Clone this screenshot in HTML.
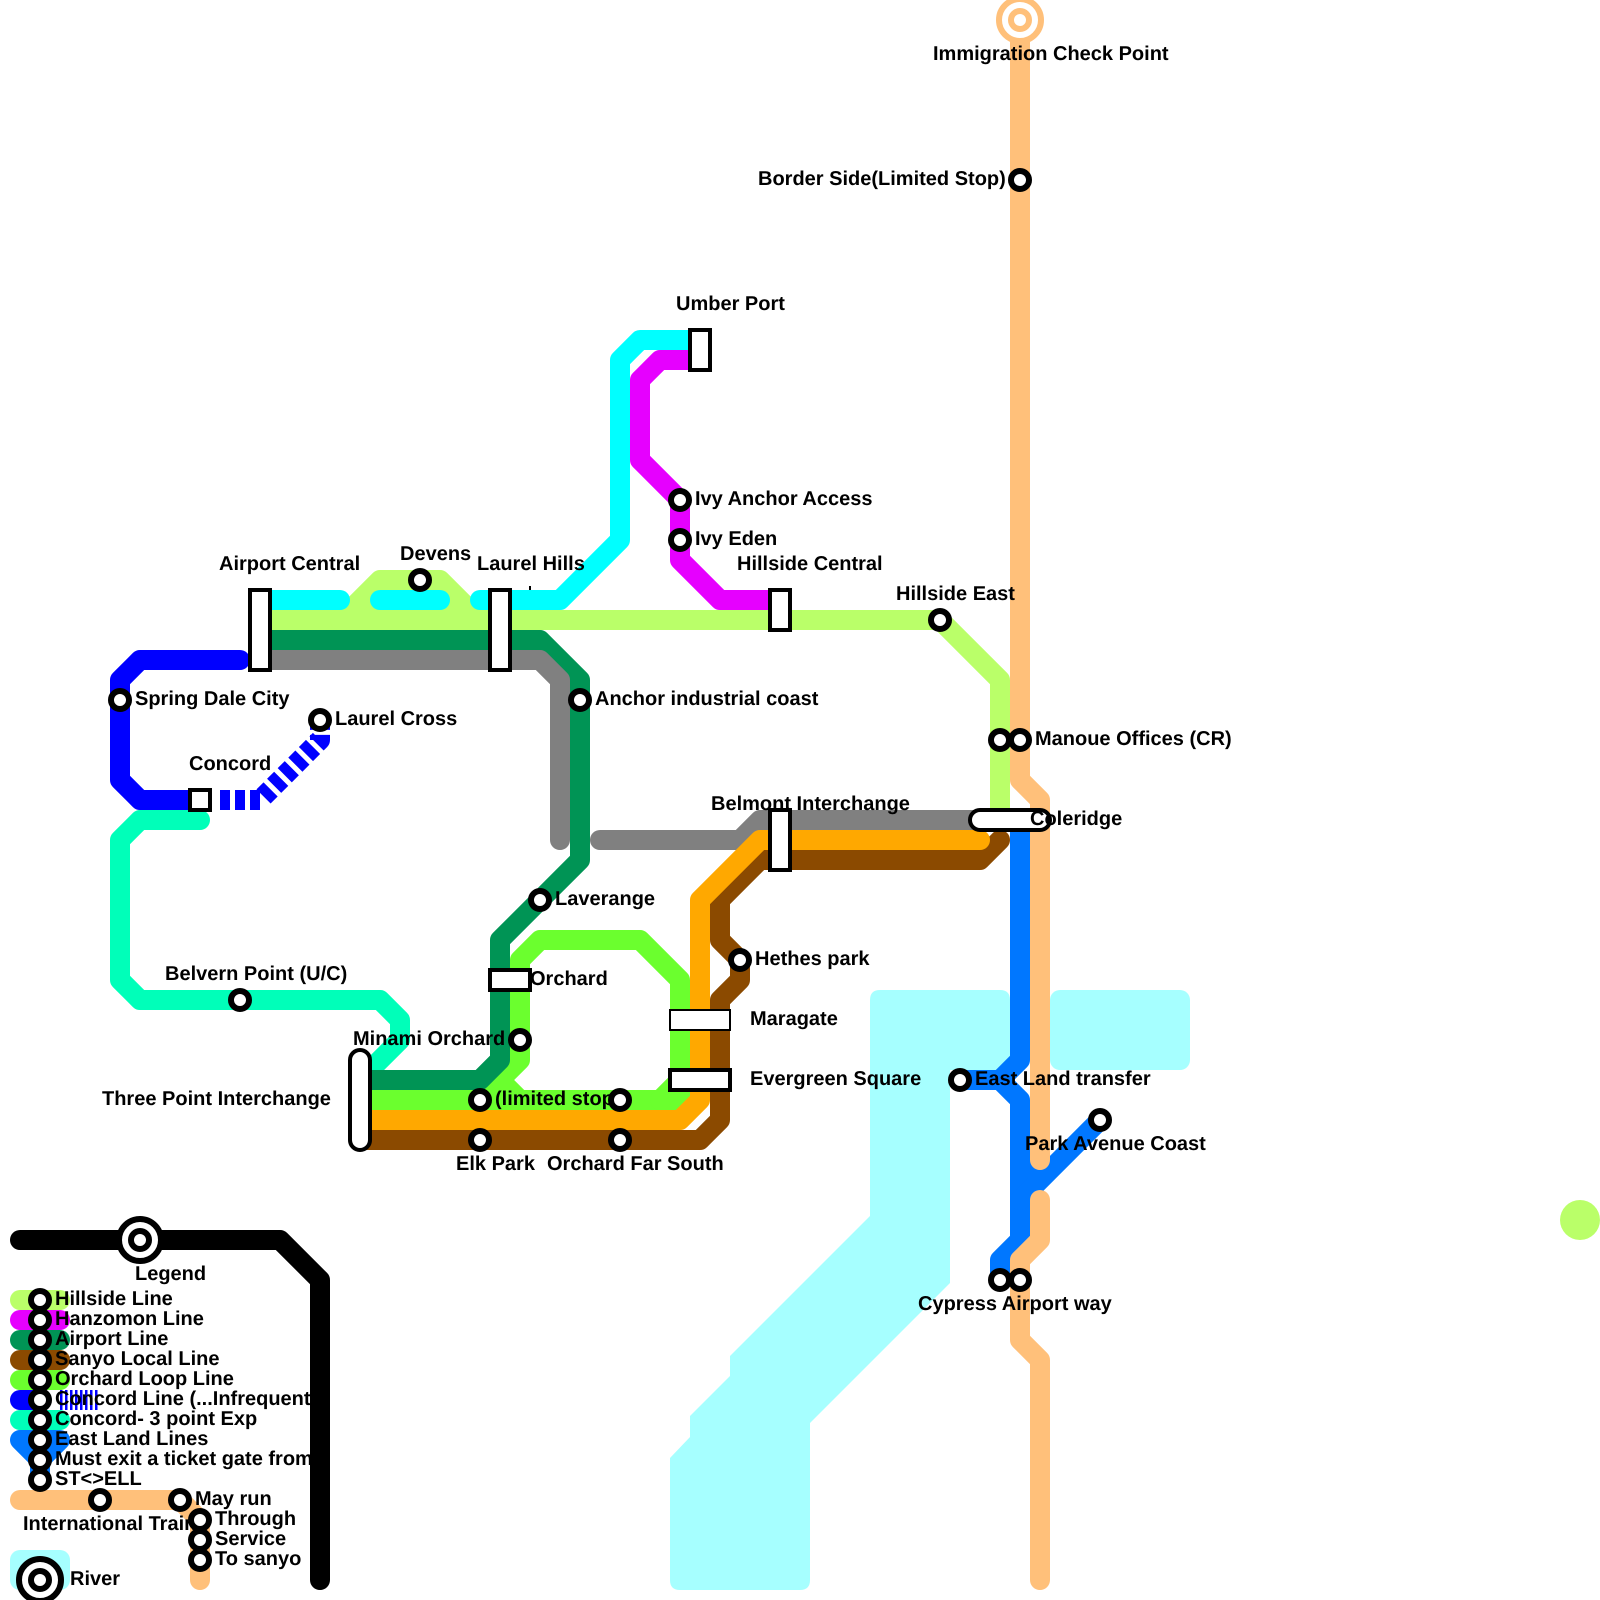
<!DOCTYPE html>
<html><head><meta charset="utf-8"><style>
html,body{margin:0;padding:0;background:#fff}
svg{display:block}
.l{fill:none;stroke-width:20;stroke-linecap:round;stroke-linejoin:round}
.b{fill:none;stroke-width:20;stroke-linecap:butt;stroke-linejoin:round}
text{font-family:"Liberation Sans",sans-serif;font-weight:bold;font-size:20px;fill:#000;font-kerning:normal;text-rendering:geometricPrecision}
.r{fill:#fff;stroke:#000;stroke-width:4}
.s{fill:#fff;stroke:#000;stroke-width:6}
</style></head><body>
<svg width="1600" height="1600" viewBox="0 0 1600 1600" xmlns="http://www.w3.org/2000/svg">
<rect width="1600" height="1600" fill="#fff"/>
<!-- river -->
<path fill="#a6ffff" d="M880 990H1000Q1010 990 1010 1000V1060Q1010 1070 1000 1070H950V1283L810 1423V1580Q810 1590 800 1590H680Q670 1590 670 1580V1458L690 1437V1416L730 1376V1356L870 1216V1000Q870 990 880 990Z"/>
<rect x="1050" y="990" width="140" height="80" rx="10" fill="#a6ffff"/>
<rect x="10" y="1550" width="60" height="40" rx="10" fill="#a6ffff"/>
<circle cx="1580" cy="1220" r="20" fill="#baff69"/>
<!-- hillside -->
<g stroke="#baff69">
<path class="l" d="M260 620H940L1000 680V820"/>
<path class="l" style="fill:#baff69" d="M340 620L380 580H440L480 620Z"/>
<path class="l" d="M20 1300H60"/>
</g>
<!-- cyan -->
<g stroke="#00ffff">
<path class="l" d="M270 600H340"/>
<path class="l" d="M380 600H440"/>
<path class="l" d="M480 600H560L620 540V360L640 340H700"/>
</g>
<rect x="529" y="586" width="2" height="4" fill="#000"/>
<!-- magenta -->
<g stroke="#e600ff">
<path class="l" d="M700 360H660L640 380V460L680 500V560L720 600H780"/>
<path class="l" d="M20 1320H60"/>
</g>
<!-- airport -->
<g stroke="#009455">
<path class="l" d="M260 640H540L580 680V860L500 940V1060L480 1080H360"/>
<path class="l" d="M20 1340H60"/>
</g>
<!-- grey -->
<path class="l" stroke="#808080" d="M260 660H540L560 680V840"/>
<path class="l" stroke="#808080" d="M600 840H740L760 820H980"/>
<!-- concord -->
<g stroke="#0000ff">
<path class="l" d="M240 660H140L120 680V780L140 800H200"/>
<path class="b" stroke-dasharray="10 5" d="M220 800H260L320 740V720"/>
<path class="l" d="M20 1400H40"/>
<path class="b" stroke-dasharray="2.5 2.5" d="M60 1400H98"/>
</g>
<!-- teal -->
<g stroke="#00ffb9">
<path class="l" d="M200 820H140L120 840V980L140 1000H380L400 1020V1040L360 1080"/>
<path class="l" d="M20 1420H60"/>
</g>
<!-- orchard loop -->
<g stroke="#6bff2e">
<path class="l" d="M360 1100H680V980L640 940H540L520 960V1060L480 1100"/>
<path class="l" d="M500 1080L520 1100M660 1100L680 1080"/>
<path class="l" d="M20 1380H60"/>
</g>
<path class="l" stroke="#009455" d="M500 1000V1060L480 1080H360"/>
<!-- brown -->
<g stroke="#8b4a00">
<path class="l" d="M360 1140H700L720 1120V1000L740 980V960L720 940V900L760 860H980L1000 840"/>
<path class="l" d="M20 1360H60"/>
</g>
<!-- orange -->
<path class="l" stroke="#ffa800" d="M360 1120H680L700 1100V900L760 840H980"/>
<!-- east land -->
<g stroke="#0077ff">
<path class="l" d="M1020 820V1060L1000 1080H960"/>
<path class="l" d="M1000 1080L1020 1100V1240L1000 1260V1280"/>
<path class="l" d="M1020 1200L1100 1120"/>
<path class="l" d="M40 1480V1460L20 1440H60L40 1460"/>
</g>
<rect x="1028" y="1160" width="15" height="30" fill="#0077ff"/>
<!-- peach -->
<g stroke="#ffc07a">
<path class="l" d="M1020 20V780L1040 800V1160"/>
<path class="l" d="M1040 1200V1240L1020 1260V1340L1040 1360V1580"/>
<path class="l" d="M20 1500H180L200 1520V1580"/>
</g>
<!-- black -->
<path class="l" stroke="#000" d="M20 1240H280L320 1280V1580"/>
<!-- station boxes -->
<rect class="r" x="250" y="590" width="20" height="80"/>
<rect class="r" x="490" y="590" width="20" height="80"/>
<rect class="r" x="190" y="790" width="20" height="20"/>
<rect class="r" x="690" y="330" width="20" height="40"/>
<rect class="r" x="770" y="590" width="20" height="40"/>
<rect class="r" x="770" y="810" width="20" height="60"/>
<rect class="r" x="970" y="810" width="80" height="20" rx="10"/>
<rect class="r" x="350" y="1050" width="20" height="100" rx="10"/>
<rect class="r" x="490" y="970" width="40" height="20"/>
<rect class="r" style="stroke-width:2" x="670" y="1010" width="60" height="20"/>
<rect class="r" x="670" y="1070" width="60" height="20"/>
<!-- labels -->
<text x="933" y="60">Immigration Check Point</text>
<text x="758" y="185">Border Side(Limited Stop)</text>
<text x="676" y="310">Umber Port</text>
<text x="695" y="505">Ivy Anchor Access</text>
<text x="695" y="545">Ivy Eden</text>
<text x="737" y="570">Hillside Central</text>
<text x="896" y="600">Hillside East</text>
<text x="219" y="570">Airport Central</text>
<text x="400" y="560">Devens</text>
<text x="477" y="570">Laurel Hills</text>
<text x="135" y="705">Spring Dale City</text>
<text x="335" y="725">Laurel Cross</text>
<text x="189" y="770">Concord</text>
<text x="595" y="705">Anchor industrial coast</text>
<text x="711" y="810">Belmont Interchange</text>
<text x="1030" y="825">Coleridge</text>
<text x="1035" y="745">Manoue Offices (CR)</text>
<text x="555" y="905">Laverange</text>
<text x="755" y="965">Hethes park</text>
<text x="530" y="985">Orchard</text>
<text x="165" y="980">Belvern Point (U/C)</text>
<text x="750" y="1025">Maragate</text>
<text x="353" y="1045">Minami Orchard</text>
<text x="750" y="1085">Evergreen Square</text>
<text x="102" y="1105">Three Point Interchange</text>
<text x="495" y="1105">(limited stop)</text>
<text x="456" y="1170">Elk Park</text>
<text x="547" y="1170">Orchard Far South</text>
<text x="975" y="1085">East Land transfer</text>
<text x="1025" y="1150">Park Avenue Coast</text>
<text x="918" y="1310">Cypress Airport way</text>
<text x="135" y="1280">Legend</text>
<text x="55" y="1305">Hillside Line</text>
<text x="55" y="1325">Hanzomon Line</text>
<text x="55" y="1345">Airport Line</text>
<text x="55" y="1365">Sanyo Local Line</text>
<text x="55" y="1385">Orchard Loop Line</text>
<text x="55" y="1405">Concord Line (...Infrequent</text>
<text x="55" y="1425">Concord- 3 point Exp</text>
<text x="55" y="1445">East Land Lines</text>
<text x="55" y="1465">Must exit a ticket gate from</text>
<text x="55" y="1485">ST&lt;&gt;ELL</text>
<text x="195" y="1505">May run</text>
<text x="23" y="1530">International Train</text>
<text x="215" y="1525">Through</text>
<text x="215" y="1545">Service</text>
<text x="215" y="1565">To sanyo</text>
<text x="70" y="1585">River</text>
<!-- interchange stations -->
<circle cx="1020" cy="20" r="21" fill="#fff" stroke="#ffc07a" stroke-width="6"/>
<circle cx="1020" cy="20" r="9" fill="#fff" stroke="#ffc07a" stroke-width="6"/>
<circle cx="140" cy="1240" r="21" class="s"/><circle cx="140" cy="1240" r="9" class="s"/>
<circle cx="40" cy="1580" r="21" class="s"/><circle cx="40" cy="1580" r="9" class="s"/>
<!-- stations -->
<g>
<circle class="s" cx="1020" cy="180" r="9"/>
<circle class="s" cx="680" cy="500" r="9"/>
<circle class="s" cx="680" cy="540" r="9"/>
<circle class="s" cx="420" cy="580" r="9"/>
<circle class="s" cx="940" cy="620" r="9"/>
<circle class="s" cx="120" cy="700" r="9"/>
<circle class="s" cx="320" cy="720" r="9"/>
<circle class="s" cx="580" cy="700" r="9"/>
<circle class="s" cx="1000" cy="740" r="9"/>
<circle class="s" cx="1020" cy="740" r="9"/>
<circle class="s" cx="540" cy="900" r="9"/>
<circle class="s" cx="740" cy="960" r="9"/>
<circle class="s" cx="240" cy="1000" r="9"/>
<circle class="s" cx="520" cy="1040" r="9"/>
<circle class="s" cx="480" cy="1100" r="9"/>
<circle class="s" cx="620" cy="1100" r="9"/>
<circle class="s" cx="480" cy="1140" r="9"/>
<circle class="s" cx="620" cy="1140" r="9"/>
<circle class="s" cx="960" cy="1080" r="9"/>
<circle class="s" cx="1100" cy="1120" r="9"/>
<circle class="s" cx="1000" cy="1280" r="9"/>
<circle class="s" cx="1020" cy="1280" r="9"/>
<circle class="s" cx="40" cy="1300" r="9"/>
<circle class="s" cx="40" cy="1320" r="9"/>
<circle class="s" cx="40" cy="1340" r="9"/>
<circle class="s" cx="40" cy="1360" r="9"/>
<circle class="s" cx="40" cy="1380" r="9"/>
<circle class="s" cx="40" cy="1400" r="9"/>
<circle class="s" cx="40" cy="1420" r="9"/>
<circle class="s" cx="40" cy="1440" r="9"/>
<circle class="s" cx="40" cy="1460" r="9"/>
<circle class="s" cx="40" cy="1480" r="9"/>
<circle class="s" cx="100" cy="1500" r="9"/>
<circle class="s" cx="180" cy="1500" r="9"/>
<circle class="s" cx="200" cy="1520" r="9"/>
<circle class="s" cx="200" cy="1540" r="9"/>
<circle class="s" cx="200" cy="1560" r="9"/>
</g>
</svg>
</body></html>
